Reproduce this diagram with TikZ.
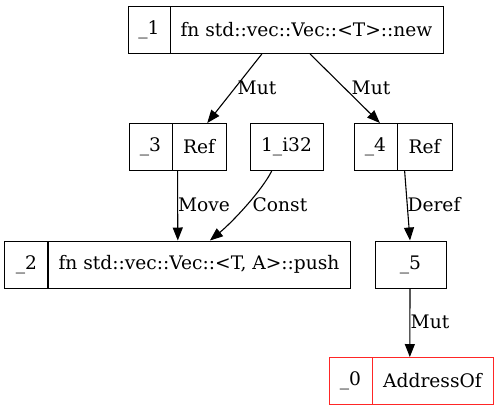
\documentclass[tikz,border=0pt]{standalone}
\usepackage{fontspec}
\setmainfont{DejaVu Serif}
\usetikzlibrary{arrows.meta,calc}
\begin{document}
\begin{tikzpicture}[x=1bp,y=-1bp,
  cell/.style={draw=black,line width=1bp,minimum height=47bp,inner sep=0pt,font=\fontsize{18.7}{21}\selectfont},
  redcell/.style={cell,draw=red!85!white},
  elabel/.style={inner sep=0pt,font=\fontsize{18.7}{21}\selectfont},
  edge/.style={line width=1.1bp,-{Triangle[length=13bp,width=10bp]}}]
\useasboundingbox (0,0) rectangle (499,412);
% _1
\node[cell,minimum width=42bp] (n1a) at (149,30) {\_1};
\node[cell,minimum width=273bp] (n1b) at (306.5,30) {fn std::vec::Vec::<T>::new};
% _3
\node[cell,minimum width=43bp] (n3a) at (150.5,147) {\_3};
\node[cell,minimum width=54bp] (n3b) at (199,147) {Ref};
% 1_i32
\node[cell,minimum width=73bp] (ni) at (286.5,147) {1\_i32};
% _4
\node[cell,minimum width=43bp] (n4a) at (375.5,147) {\_4};
\node[cell,minimum width=55bp] (n4b) at (424.5,147) {Ref};
% _2
\node[cell,minimum width=43bp] (n2a) at (26.5,264.5) {\_2};
\node[cell,minimum width=302bp] (n2b) at (199,264.5) {fn std::vec::Vec::<T, A>::push};
% _5
\node[cell,minimum width=71bp] (n5) at (410.5,264.5) {\_5};
% _0
\node[redcell,minimum width=43bp] (n0a) at (350.5,381) {\_0};
\node[redcell,minimum width=121bp] (n0b) at (432.5,381) {AddressOf};
% edges
\draw[edge] ($(n1b.south west)!0.337!(n1b.south east)$) -- ($(n3b.north west)!0.65!(n3b.north east)$);
\draw[edge] ($(n1b.south west)!0.513!(n1b.south east)$) -- ($(n4a.north west)!0.6!(n4a.north east)$);
\draw[edge] ($(n3b.south west)!0.11!(n3b.south east)$) -- ($(n2b.north west)!0.43!(n2b.north east)$);
\draw[edge] ($(ni.south west)!0.30!(ni.south east)$) .. controls +(-10,20) and +(22,-18) .. ($(n2b.north west)!0.536!(n2b.north east)$);
\draw[edge] ($(n4b.south west)!0.145!(n4b.south east)$) -- ($(n5.north west)!0.493!(n5.north east)$);
\draw[edge] ($(n5.south west)!0.493!(n5.south east)$) -- ($(n0b.north west)!0.314!(n0b.north east)$);
% labels
\node[elabel] (l1) at (257,88) {Mut};
\node[elabel] (l2) at (371,88) {Mut};
\node[elabel] (l3) at (204,205) {Move};
\node[elabel] (l4) at (280,205) {Const};
\node[elabel] (l5) at (434,205) {Deref};
\node[elabel] (l6) at (430,322) {Mut};
\end{tikzpicture}
\end{document}
